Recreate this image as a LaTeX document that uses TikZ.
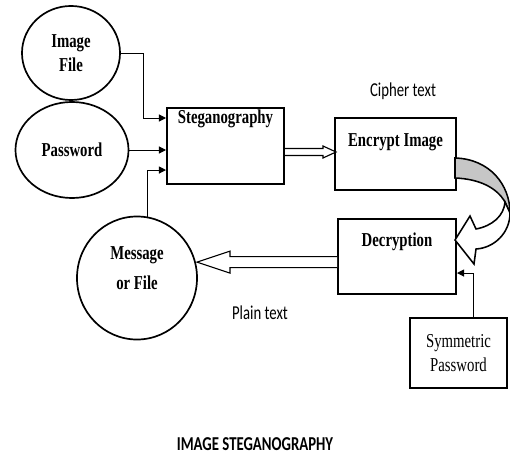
\documentclass[tikz,border=0pt]{standalone}
\usepackage{fontspec}
\newfontfamily\boxfont[FakeStretch=0.75]{Liberation Serif}
\newfontfamily\notefont[FakeStretch=0.75]{Carlito}
\usetikzlibrary{arrows.meta,shapes.geometric}

\begin{document}
\begin{tikzpicture}[x=0.025cm, y=-0.025cm,
  every node/.style={font=\boxfont\fontsize{14}{17.5}\selectfont},
  blob/.style={draw, ellipse, line width=1.2pt, inner sep=0pt, align=center,
    font=\boxfont\bfseries\fontsize{14}{17.5}\selectfont},
  proc/.style={draw, line width=1.4pt, anchor=north west, inner xsep=0pt, inner ysep=0.1cm,
    font=\boxfont\bfseries\fontsize{14}{17.5}\selectfont},
  note/.style={font=\notefont\fontsize{14}{15}\selectfont},
  conn/.style={line width=0.7pt, -{Triangle[length=5pt,width=5pt]}},
  blockarrow/.style={line width=0.8pt, fill=white, line join=miter}]

  \useasboundingbox (0,0) rectangle (510,458);

  % inputs
  \node[blob, minimum width=2.45cm, minimum height=2.35cm] (imgfile) at (71,53) {Image\\File};
  \node[blob, minimum width=2.825cm, minimum height=2.4cm] (pass) at (72,150) {Password};
  \node[blob, minimum width=3.0cm, minimum height=3.075cm, text depth=0.5cm] (msg) at (137,278) {Message\\[4pt]or File};

  % process boxes (text sits near the top edge)
  \node[proc, minimum width=2.925cm, text height=0.3cm, text depth=1.4cm] (steg) at (166,107) {Steganography};
  \node[proc, minimum width=3.025cm, text height=0.625cm, text depth=0.975cm] (enc) at (334,117) {Encrypt Image};
  \node[proc, minimum width=2.95cm, text height=0.6cm, text depth=1.075cm] (dec) at (337,218) {Decryption};
  \node[draw, line width=1.4pt, minimum width=2.425cm, minimum height=1.75cm, align=center] (sym) at (458.5,353) {Symmetric\\Password};

  % labels
  \node[note] (ciph) at (403,91) {Cipher text};
  \node[note] (plain) at (260,313) {Plain text};
  \node[note, font=\notefont\bfseries\fontsize{14}{15}\selectfont] (title) at (255,444) {IMAGE STEGANOGRAPHY};

  % inputs into steganography
  \draw[conn] (imgfile.east) -- ++(23,0) |- ([yshift=-0.275cm]steg.north west);
  \draw[conn] (pass.east) -- (pass.east -| steg.west);
  \draw[conn] (msg.80) |- ([yshift=-1.575cm]steg.north west);
  \draw[conn] ([xshift=0.375cm]sym.north) |- ([yshift=-1.375cm]dec.north east);

  % hollow block arrows
  \coordinate (stegout) at ([yshift=-0.15cm]steg.east);
  \draw[blockarrow] (stegout) ++(0,-3.5) -- ++(38,0) -- ++(0,-2.5) -- ++(13,6) -- ++(-13,6)
    -- ++(0,-2.5) -- ++(-38,0);
  \coordinate (decout) at ([yshift=-0.14cm]dec.west);
  \draw[blockarrow] (decout) ++(0,-5.5) -- ++(-107,0) -- ++(0,-5.5) -- ++(-33,11) -- ++(33,11)
    -- ++(0,-5.5) -- ++(107,0);

  % curved ribbon arrow from encrypt to decrypt
  \draw[line width=1.1pt, fill=gray!45]
    (455,158) .. controls (490,159) and (510,185) .. (510,213) -- (505,202)
    .. controls (497,188) and (480,179) .. (455,178) -- cycle;
  \draw[line width=1.1pt, fill=white, line join=miter]
    (510,213) .. controls (510,233) and (494,248) .. (476,249) -- (474,264) -- (455,240)
    -- (470,216) -- (476,229) .. controls (492,226) and (504,216) .. (505,202) -- cycle;

\end{tikzpicture}
\end{document}
